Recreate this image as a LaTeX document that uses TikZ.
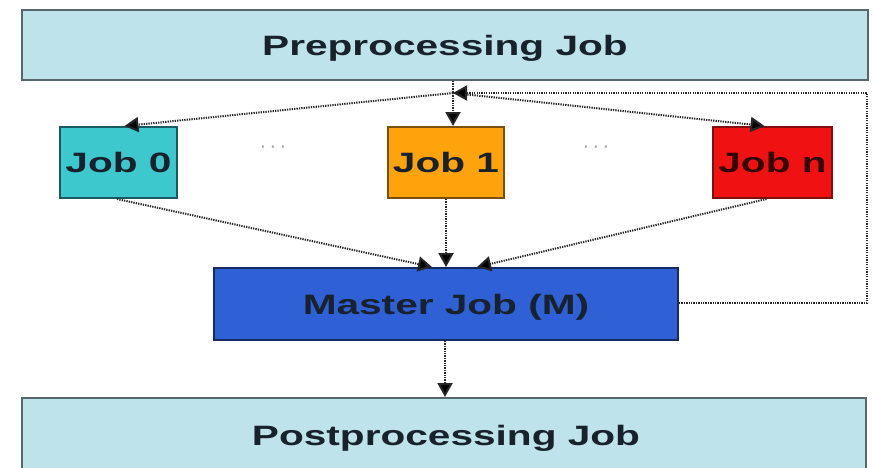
\documentclass[tikz,border=0pt]{standalone}
\usepackage{fontspec}
\newfontfamily\labfont[FakeStretch=1.45]{Liberation Sans Bold}
\newfontfamily\dotfont{Liberation Sans}
\usetikzlibrary{arrows.meta}
\definecolor{prefill}{HTML}{BFE3EA}
\definecolor{preline}{HTML}{56666A}
\definecolor{zerofill}{HTML}{3CC8CC}
\definecolor{zeroline}{HTML}{1A5A60}
\definecolor{onefill}{HTML}{FFA30C}
\definecolor{oneline}{HTML}{7A5010}
\definecolor{nfill}{HTML}{F01212}
\definecolor{nline}{HTML}{801010}
\definecolor{mfill}{HTML}{2F60D6}
\definecolor{mline}{HTML}{1A2A60}
\definecolor{txt}{HTML}{18222C}
\begin{document}
\begin{tikzpicture}[x=1pt,y=-1pt,
  lab/.style={font=\labfont\fontsize{28}{30}\selectfont, text=txt, text height=20pt, text depth=0pt},
  box/.style={lab, draw, line width=2pt, inner sep=0pt},
  dl/.style={draw=black!85, line width=2pt, dash pattern=on 1.3pt off 1.1pt},
  arr/.style={dl, -{Triangle[length=14pt,width=15pt,fill=black]}},
  dotsty/.style={text=black!40, font=\dotfont\fontsize{20}{20}\selectfont, inner sep=0pt}
]
\useasboundingbox (0,0) rectangle (874,467);
\begin{scope}
\clip (0,0) rectangle (874,467);
\node[box, fill=prefill, draw=preline, minimum width=846pt, minimum height=70pt] (pre) at (445,45) {Preprocessing Job};
\node[box, fill=prefill, draw=preline, minimum width=844pt, minimum height=80pt] (post) at (444,438) {};
\end{scope}
\node[lab] (posttext) at (446,435) {Postprocessing Job};
\node[box, fill=zerofill, draw=zeroline, minimum width=117pt, minimum height=71pt] (job0) at (118.5,162.5) {Job 0};
\node[box, fill=onefill, draw=oneline, minimum width=116pt, minimum height=71pt] (job1) at (446,162.5) {Job 1};
\node[box, fill=nfill, draw=nline, text=black!80!red, minimum width=119pt, minimum height=71pt] (jobn) at (772.5,162.5) {Job n};
\node[dotsty] (dotsA) at (273,149) {\textperiodcentered\,\textperiodcentered\,\textperiodcentered};
\node[dotsty] (dotsB) at (596,149) {\textperiodcentered\,\textperiodcentered\,\textperiodcentered};
\node[box, fill=mfill, draw=mline, minimum width=464pt, minimum height=72pt] (master) at (446,304) {Master Job (M)};
\coordinate (J) at (453,93);
\coordinate (fbA) at (867,303);
\coordinate (fbB) at (867,93);
% connectors
\draw[dl] (pre.south -| J) -- (J);
\draw[arr] (J) -- ([xshift=6pt]job0.north);
\draw[arr] (J) -- (J |- job1.north);
\draw[arr] (J) -- ([xshift=-8pt]jobn.north);
\draw[arr] (master.east |- fbA) -- (fbA) -- (fbB) -- (J);
\draw[arr] ([xshift=-1.5pt]job0.south) -- ([xshift=-14pt]master.north);
\draw[arr] (job1.south) -- (job1.south |- master.north);
\draw[arr] ([xshift=-6pt]jobn.south) -- ([xshift=31pt]master.north);
\draw[arr] ([xshift=-1pt]master.south) -- ([xshift=-1pt]master.south |- post.north);
\end{tikzpicture}
\end{document}
